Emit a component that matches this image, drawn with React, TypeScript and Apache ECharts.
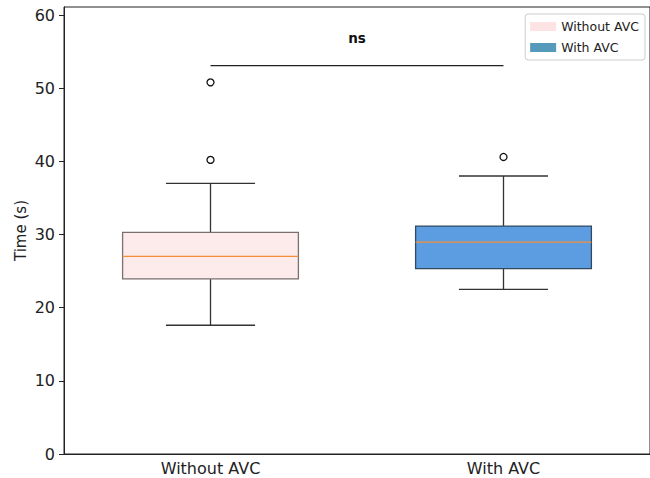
import React, { useEffect, useRef } from "react";
import * as echarts from "echarts";

const categories = ["Without AVC", "With AVC"];
// [min, Q1, median, Q3, max]
const withoutStats = [17.6, 23.95, 27.0, 30.3, 37.0];
const withStats = [22.5, 25.35, 28.95, 31.15, 38.0];
const outliers = [
  [0, 50.8],
  [0, 40.2],
  [1, 40.6],
];
const sigLevel = 53.1;
const sigLabel = "ns";
const yTicks = [0, 10, 20, 30, 40, 50, 60];

const FONT = "DejaVu Sans";

function makeBoxRender(fill: string, border: string) {
  return (params: any, api: any) => {
    const cat = api.value(0);
    const vals = [api.value(1), api.value(2), api.value(3), api.value(4), api.value(5)];
    const band = api.size([1, 0])[0];
    const half = band * 0.3;
    const capHalf = band * 0.152;
    const c = (v: number) => api.coord([cat, v]);
    const pMin = c(vals[0]);
    const pQ1 = c(vals[1]);
    const pMed = c(vals[2]);
    const pQ3 = c(vals[3]);
    const pMax = c(vals[4]);
    const x = pMed[0];
    const ls = { stroke: "#333", lineWidth: 1.3 };
    return {
      type: "group",
      children: [
        { type: "line", shape: { x1: x, y1: pQ1[1], x2: x, y2: pMin[1] }, style: ls },
        { type: "line", shape: { x1: x, y1: pQ3[1], x2: x, y2: pMax[1] }, style: ls },
        { type: "line", shape: { x1: x - capHalf, y1: pMin[1], x2: x + capHalf, y2: pMin[1] }, style: ls },
        { type: "line", shape: { x1: x - capHalf, y1: pMax[1], x2: x + capHalf, y2: pMax[1] }, style: ls },
        {
          type: "rect",
          shape: { x: x - half, y: pQ3[1], width: half * 2, height: pQ1[1] - pQ3[1] },
          style: { fill, stroke: border, lineWidth: 1.3 },
        },
        {
          type: "line",
          shape: { x1: x - half, y1: pMed[1], x2: x + half, y2: pMed[1] },
          style: { stroke: "#f5903a", lineWidth: 1.3 },
        },
      ],
    };
  };
}

export default function App() {
  const ref = useRef<HTMLDivElement>(null);
  useEffect(() => {
    const chart = echarts.init(ref.current!, null, { renderer: "svg" });
    chart.setOption({
      animation: false,
      textStyle: { fontFamily: FONT },
      grid: {
        left: 64,
        right: -1,
        top: 7,
        bottom: 24,
        show: true,
        borderColor: "#222",
        borderWidth: 1,
      },
      legend: {
        right: 5,
        top: 14,
        orient: "vertical",
        icon: "rect",
        itemWidth: 26,
        itemHeight: 9,
        itemGap: 8,
        backgroundColor: "#fff",
        borderColor: "#ccc",
        borderWidth: 1,
        borderRadius: 3,
        padding: [6, 6, 6, 5],
        textStyle: { fontFamily: FONT, fontSize: 12.5, color: "#222" },
        data: [
          { name: "Without AVC", itemStyle: { color: "#fde3e3" } },
          { name: "With AVC", itemStyle: { color: "#559abb" } },
        ],
      },
      xAxis: {
        type: "category",
        data: categories,
        axisLine: { lineStyle: { color: "#222", width: 1 } },
        axisTick: { alignWithLabel: true, length: 4, lineStyle: { color: "#222" } },
        axisLabel: { fontFamily: FONT, fontSize: 16, color: "#222", margin: 6 },
      },
      yAxis: {
        type: "value",
        min: 0,
        max: 61.1,
        interval: 10,
        name: "Time (s)",
        nameLocation: "middle",
        nameGap: 36,
        nameMoveOverlap: false,
        nameTextStyle: { fontFamily: FONT, fontSize: 15, color: "#222" },
        splitLine: { show: false },
        axisLine: { show: true, lineStyle: { color: "#222", width: 1 } },
        axisTick: { show: true, length: 5, lineStyle: { color: "#222" } },
        axisLabel: {
          fontFamily: FONT,
          fontSize: 16,
          color: "#222",
          margin: 9,
          showMaxLabel: false,
          formatter: (v: number) => (yTicks.includes(v) ? String(v) : ""),
        },
      },
      series: [
        {
          name: "Without AVC",
          type: "custom",
          renderItem: makeBoxRender("#fdeaea", "#7a7070"),
          encode: { x: 0, y: [1, 2, 3, 4, 5] },
          data: [[0, ...withoutStats]],
          z: 2,
        },
        {
          name: "With AVC",
          type: "custom",
          renderItem: makeBoxRender("#5b9de0", "#34495e"),
          encode: { x: 0, y: [1, 2, 3, 4, 5] },
          data: [[1, ...withStats]],
          z: 2,
        },
        {
          name: "outliers",
          type: "scatter",
          symbol: "circle",
          symbolSize: 7,
          itemStyle: { color: "#fff", borderColor: "#111", borderWidth: 1.3, opacity: 1 },
          data: outliers,
          z: 3,
        },
        {
          name: "sig",
          type: "custom",
          renderItem: (params: any, api: any) => {
            const a = api.coord([0, api.value(0)]);
            const b = api.coord([1, api.value(0)]);
            return {
              type: "group",
              children: [
                { type: "line", shape: { x1: a[0], y1: a[1], x2: b[0], y2: b[1] }, style: { stroke: "#222", lineWidth: 1.3 } },
                {
                  type: "text",
                  x: (a[0] + b[0]) / 2,
                  y: a[1] - 28,
                  style: {
                    text: sigLabel,
                    fontFamily: FONT,
                    fontWeight: "bold",
                    fontSize: 13.5,
                    fill: "#111",
                    align: "center",
                    verticalAlign: "middle",
                  },
                },
              ],
            };
          },
          encode: { y: 0 },
          data: [[sigLevel]],
          z: 4,
        },
      ],
    });
    return () => chart.dispose();
  }, []);
  return <div ref={ref} style={{ width: 650, height: 478, position: "absolute", left: 0, top: 0 }} />;
}
